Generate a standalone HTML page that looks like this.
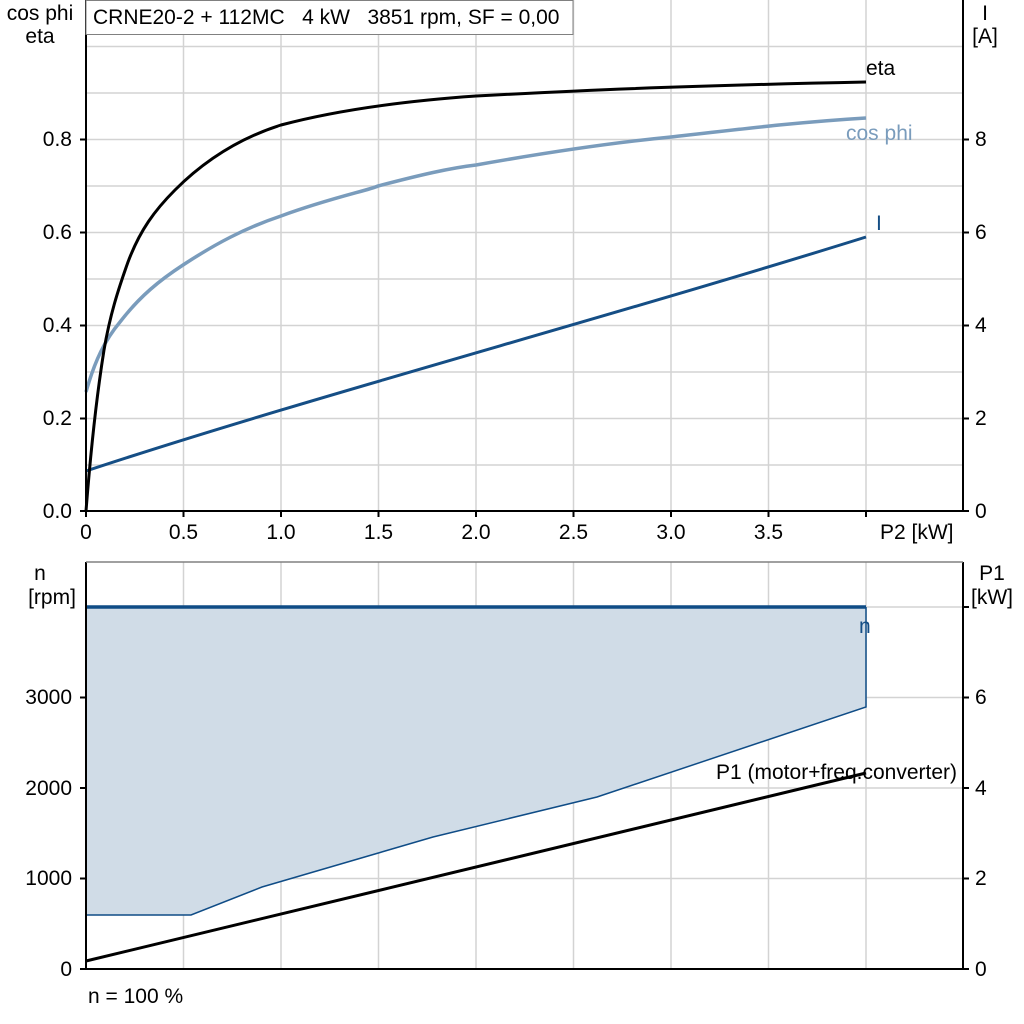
<!DOCTYPE html>
<html><head><style>body{margin:0;background:#fff}svg{display:block;font-family:"Liberation Sans",Arial,sans-serif}</style></head><body>
<svg width="1024" height="1024" viewBox="0 0 1024 1024" xmlns="http://www.w3.org/2000/svg">
<g stroke="#d3d3d3" stroke-width="1.5" fill="none">
<path d="M183.5 0V511M281 0V511M378.5 0V511M476 0V511M573.5 0V511M671 0V511M768.5 0V511M866 0V511"/>
<path d="M86 46.5H963M86 93H963M86 139.5H963M86 186H963M86 232.5H963M86 279H963M86 325.5H963M86 372H963M86 418.5H963M86 465H963"/>
<path d="M183.5 562V969M281 562V969M378.5 562V969M476 562V969M573.5 562V969M671 562V969M768.5 562V969M866 562V969"/>
<path d="M86 607H963M86 697.5H963M86 788H963M86 878.5H963"/>
</g>
<path d="M86 607H866V707L597 797L433 837L262 887L191 915H86Z" fill="#d0dce7"/>
<path d="M866 607V707L597 797L433 837L262 887L191 915H86" fill="none" stroke="#0f4c86" stroke-width="1.5"/>
<path d="M86 607H866" stroke="#0f4c86" stroke-width="3.5"/>
<path d="M86 961L866 773" stroke="#000" stroke-width="3"/>
<path d="M86 471C300 400 600 320 866 237" fill="none" stroke="#154e85" stroke-width="3"/>
<path d="M86 392C95 360 105 340 120 322C140 296 160 280 183 265C215 244 245 228 281 216C330 198 370 190 378 186C420 175 450 168 476 165C560 150 620 142 671 137C750 128 800 122 866 118" fill="none" stroke="#7a9cbc" stroke-width="3.5"/>
<path d="M86 511C90 460 96 400 104 350C110 315 118 290 128 262C140 230 155 210 175 190C205 160 240 138 281 125C330 112 390 102 476 96C570 91 670 86 866 82" fill="none" stroke="#000" stroke-width="3"/>
<g stroke="#000" stroke-width="2" fill="none">
<path d="M86 0V511H963M963 0V511"/>
<path d="M86 562V969H963M963 562V969"/>
<path d="M86 511v6M183.5 511v6M281 511v6M378.5 511v6M476 511v6M573.5 511v6M671 511v6M768.5 511v6M866 511v6"/>
<path d="M80 511h6M80 418.5h6M80 325.5h6M80 232.5h6M80 139.5h6M963 511h6M963 418.5h6M963 325.5h6M963 232.5h6M963 139.5h6"/>
<path d="M80 969h6M80 878.5h6M80 788h6M80 697.5h6M963 969h6M963 878.5h6M963 788h6M963 697.5h6M963 607h6"/>
</g>
<path d="M86 562H963" stroke="#808080" stroke-width="1.5"/>
<rect x="86" y="0.5" width="487" height="34" fill="#fff" stroke="#808080"/>
<g font-size="21" fill="#000">
<text x="93" y="24" xml:space="preserve" style="white-space:pre">CRNE20-2 + 112MC   4 kW   3851 rpm, SF = 0,00</text>
<g text-anchor="middle"><text x="40" y="20">cos phi</text><text x="40" y="43">eta</text>
<text x="985" y="20">I</text><text x="985" y="43">[A]</text>
<text x="40" y="580">n</text><text x="52" y="604">[rpm]</text>
<text x="992" y="580">P1</text><text x="992" y="604">[kW]</text>
<text x="86" y="539">0</text><text x="183.5" y="539">0.5</text><text x="281" y="539">1.0</text><text x="378.5" y="539">1.5</text><text x="476" y="539">2.0</text><text x="573.5" y="539">2.5</text><text x="671" y="539">3.0</text><text x="768.5" y="539">3.5</text></g>
<text x="880" y="539">P2 [kW]</text>
<g text-anchor="end"><text x="72" y="518">0.0</text><text x="72" y="425">0.2</text><text x="72" y="332">0.4</text><text x="72" y="239">0.6</text><text x="72" y="146">0.8</text>
<text x="72" y="976">0</text><text x="72" y="885">1000</text><text x="72" y="795">2000</text><text x="72" y="704">3000</text></g>
<text x="975" y="518">0</text><text x="975" y="425">2</text><text x="975" y="332">4</text><text x="975" y="239">6</text><text x="975" y="146">8</text>
<text x="975" y="976">0</text><text x="975" y="885">2</text><text x="975" y="795">4</text><text x="975" y="704">6</text>
<text x="866" y="75">eta</text>
<text x="846" y="140" fill="#7a9cbc">cos phi</text>
<text x="876" y="230" fill="#154e85">I</text>
<text x="859" y="633" fill="#154e85">n</text>
<text x="716" y="779">P1 (motor+freq.converter)</text>
<text x="88" y="1003">n = 100 %</text>
</g>
</svg>
</body></html>
